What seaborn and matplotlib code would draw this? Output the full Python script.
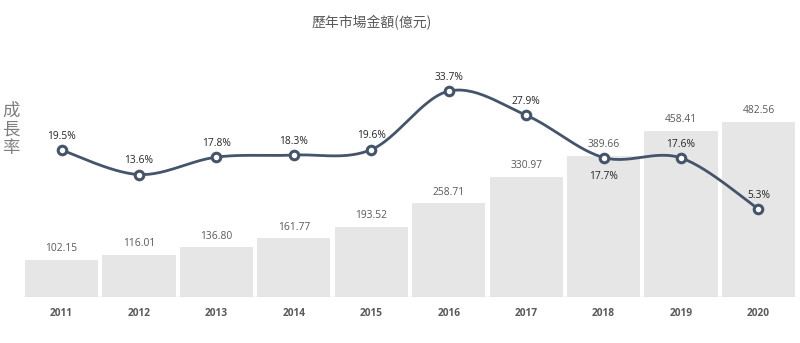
import numpy as np
import pandas as pd
import matplotlib
matplotlib.use("Agg")
import matplotlib.pyplot as plt
import seaborn as sns

years = ["2011", "2012", "2013", "2014", "2015", "2016", "2017", "2018", "2019", "2020"]
market_value = [102.15, 116.01, 136.80, 161.77, 193.52, 258.71, 330.97, 389.66, 458.41, 482.56]
growth_rate = [19.5, 13.6, 17.8, 18.3, 19.6, 33.7, 27.9, 17.7, 17.6, 5.3]
growth_label_below = [False, False, False, False, False, False, False, True, False, False]

title_text = "歷年市場金額(億元)"
side_text = "成\n長\n率"

sns.set_theme(style="white")
plt.rcParams["font.family"] = ["Lato", "Noto Sans CJK TC", "DejaVu Sans"]

BAR_COLOR = "#E7E6E6"
LINE_COLOR = "#44546A"
TEXT_GRAY = "#595959"

df = pd.DataFrame({"year": years, "value": market_value, "growth": growth_rate})

fig = plt.figure(figsize=(8.0, 3.43), dpi=100)
ax = fig.add_axes([0.0285, 0.1341, 0.968, 0.691])

sns.barplot(data=df, x="year", y="value", color=BAR_COLOR, width=0.945,
            saturation=1, ax=ax, edgecolor="none")
ax.set_ylim(0, 653.4)
ax.set_xlim(-0.5, len(years) - 0.5)
ax.axhline(0, color="#D9D9D9", lw=1.0, zorder=3)

for i, v in enumerate(market_value):
    ax.annotate(f"{v:.2f}", (i, v), xytext=(0, 4), textcoords="offset points",
                ha="center", va="bottom", fontsize=7.4, color=TEXT_GRAY,
                family=["Open Sans", "DejaVu Sans"])

ax.set_xlabel("")
ax.set_ylabel("")
ax.set_yticks([])
ax.tick_params(axis="x", length=0, pad=8)
for lab in ax.get_xticklabels():
    lab.set_fontsize(7.3)
    lab.set_fontweight("bold")
    lab.set_color(TEXT_GRAY)
    lab.set_family(["Open Sans", "DejaVu Sans"])
for s in ax.spines.values():
    s.set_visible(False)

# growth-rate line on a second y scale, drawn as a smooth cubic curve
ax2 = ax.twinx()
ax2.set_ylim(-15.9, 41.2)
ax2.set_yticks([])
for s in ax2.spines.values():
    s.set_visible(False)

x = np.arange(len(years), dtype=float)
y = np.asarray(growth_rate, dtype=float)
pts = np.column_stack([x, y])
ext = np.vstack([pts[0], pts, pts[-1]])
curve = []
t = np.linspace(0, 1, 30)
for k in range(len(pts) - 1):
    p0, p3 = ext[k + 1], ext[k + 2]
    c1 = p0 + (ext[k + 2] - ext[k]) / 6.0
    c2 = p3 - (ext[k + 3] - ext[k + 1]) / 6.0
    seg = ((1 - t) ** 3)[:, None] * p0 + (3 * (1 - t) ** 2 * t)[:, None] * c1 \
        + (3 * (1 - t) * t ** 2)[:, None] * c2 + (t ** 3)[:, None] * p3
    curve.append(seg if k == 0 else seg[1:])
curve = np.vstack(curve)
ax2.plot(curve[:, 0], curve[:, 1], color=LINE_COLOR, lw=2.0, zorder=4,
         solid_capstyle="round")
sns.scatterplot(x=x, y=y, ax=ax2, s=38, color="white", edgecolor=LINE_COLOR,
                linewidth=2.2, zorder=5, legend=False)

for i, (g, below) in enumerate(zip(growth_rate, growth_label_below)):
    ax2.annotate(f"{g:.1f}%", (i, g), xytext=(0, -10 if below else 6),
                 textcoords="offset points", ha="center",
                 va="top" if below else "bottom", fontsize=7.4,
                 color="#262626", family=["Open Sans", "DejaVu Sans"])

fig.text(0.464, 0.935, title_text, ha="center", va="center", fontsize=10,
         color=TEXT_GRAY, family=["Noto Sans CJK TC", "DejaVu Sans"])
fig.text(0.0135, 0.623, side_text, ha="center", va="center", fontsize=12.5,
         color="#7F7F7F", linespacing=1.05,
         family=["Noto Sans CJK TC", "DejaVu Sans"])

fig.savefig("out.png", dpi=100)
